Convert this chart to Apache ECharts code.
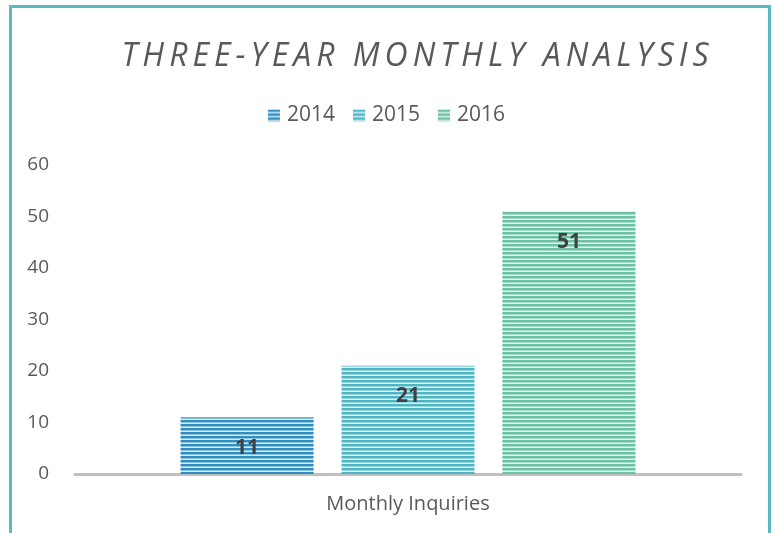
<!DOCTYPE html>
<html>
<head>
<meta charset="utf-8">
<style>
html,body{margin:0;padding:0;background:#fff;}
#chart{width:773px;height:533px;}
</style>
<script src="https://cdn.jsdelivr.net/npm/echarts@6/dist/echarts.min.js"></script>
</head>
<body>
<div id="chart"></div>
<script>
const categories = ['Monthly Inquiries'];
const seriesNames = ['2014', '2015', '2016'];
const values2014 = [11];
const values2015 = [21];
const values2016 = [51];
const yTicks = [0, 10, 20, 30, 40, 50, 60];

// Letter-spaced title rendering (reference title is tracked out)
(function () {
  const proto = CanvasRenderingContext2D.prototype;
  const orig = proto.fillText;
  proto.fillText = function (t, x, y, m) {
    if (this.font && this.font.indexOf('italic') >= 0 && 'letterSpacing' in this) {
      const prev = this.letterSpacing;
      const prevAlign = this.textAlign;
      this.letterSpacing = '5px';
      const w = this.measureText(t).width;
      this.textAlign = 'left';
      orig.call(this, t, x - (w - 5) / 2, y, m);
      this.textAlign = prevAlign;
      this.letterSpacing = prev;
    } else {
      orig.call(this, t, x, y, m);
    }
  };
})();

function stripe(dark, mid, light) {
  const c = document.createElement('canvas');
  c.width = 4; c.height = 4;
  const ctx = c.getContext('2d');
  ctx.fillStyle = dark; ctx.fillRect(0, 0, 4, 2);
  ctx.fillStyle = mid; ctx.fillRect(0, 2, 4, 1);
  ctx.fillStyle = light; ctx.fillRect(0, 3, 4, 1);
  return { image: c, repeat: 'repeat' };
}
const styles = [
  stripe('#2f8ebf', '#8cc2df', '#d6e9f3'),
  stripe('#4cb6c5', '#9dd6de', '#ddf1f4'),
  stripe('#6cc1a5', '#a8dcc9', '#e0f2eb')
];
const dataSets = [values2014, values2015, values2016];

const chart = echarts.init(document.getElementById('chart'), null, { renderer: 'canvas' });
const font = '"Open Sans", "Liberation Sans", sans-serif';
chart.setOption({
  animation: false,
  backgroundColor: '#fff',
  title: {
    text: 'THREE-YEAR MONTHLY ANALYSIS',
    left: 410, top: 36, textAlign: 'center',
    textStyle: { fontFamily: font, fontStyle: 'italic', fontWeight: 'normal', fontSize: 32, color: '#595959' }
  },
  legend: {
    data: seriesNames,
    top: 100, left: 'center',
    itemWidth: 12, itemHeight: 12, itemGap: 18,
    icon: 'rect',
    textStyle: { fontFamily: font, fontSize: 21, color: '#595959', padding: [0, 0, 0, 2] }
  },
  grid: { left: 75, right: 32, top: 165, bottom: 59 },
  xAxis: {
    type: 'category',
    data: categories,
    axisLine: { lineStyle: { color: '#bfbfbf', width: 3 } },
    axisTick: { show: false },
    axisLabel: { fontFamily: font, fontSize: 20, color: '#595959', margin: 20 }
  },
  yAxis: {
    type: 'value',
    min: yTicks[0], max: yTicks[yTicks.length - 1], interval: 10,
    splitLine: { show: false },
    axisLine: { show: false },
    axisTick: { show: false },
    axisLabel: { fontFamily: font, fontSize: 19, color: '#595959', margin: 26 }
  },
  series: seriesNames.map((n, i) => ({
    name: n,
    type: 'bar',
    data: dataSets[i],
    barWidth: 133,
    barGap: '21%',
    itemStyle: { color: styles[i] },
    label: {
      show: true, position: 'insideTop', distance: 20,
      fontFamily: font, fontWeight: 'bold', fontSize: 21, color: '#404040'
    }
  })),
  graphic: [{
    type: 'rect', silent: true, z: 100,
    shape: { x: 10.5, y: 6.5, width: 759, height: 540 },
    style: { fill: 'none', stroke: '#5cb9c4', lineWidth: 3 }
  }]
});
</script>
</body>
</html>
